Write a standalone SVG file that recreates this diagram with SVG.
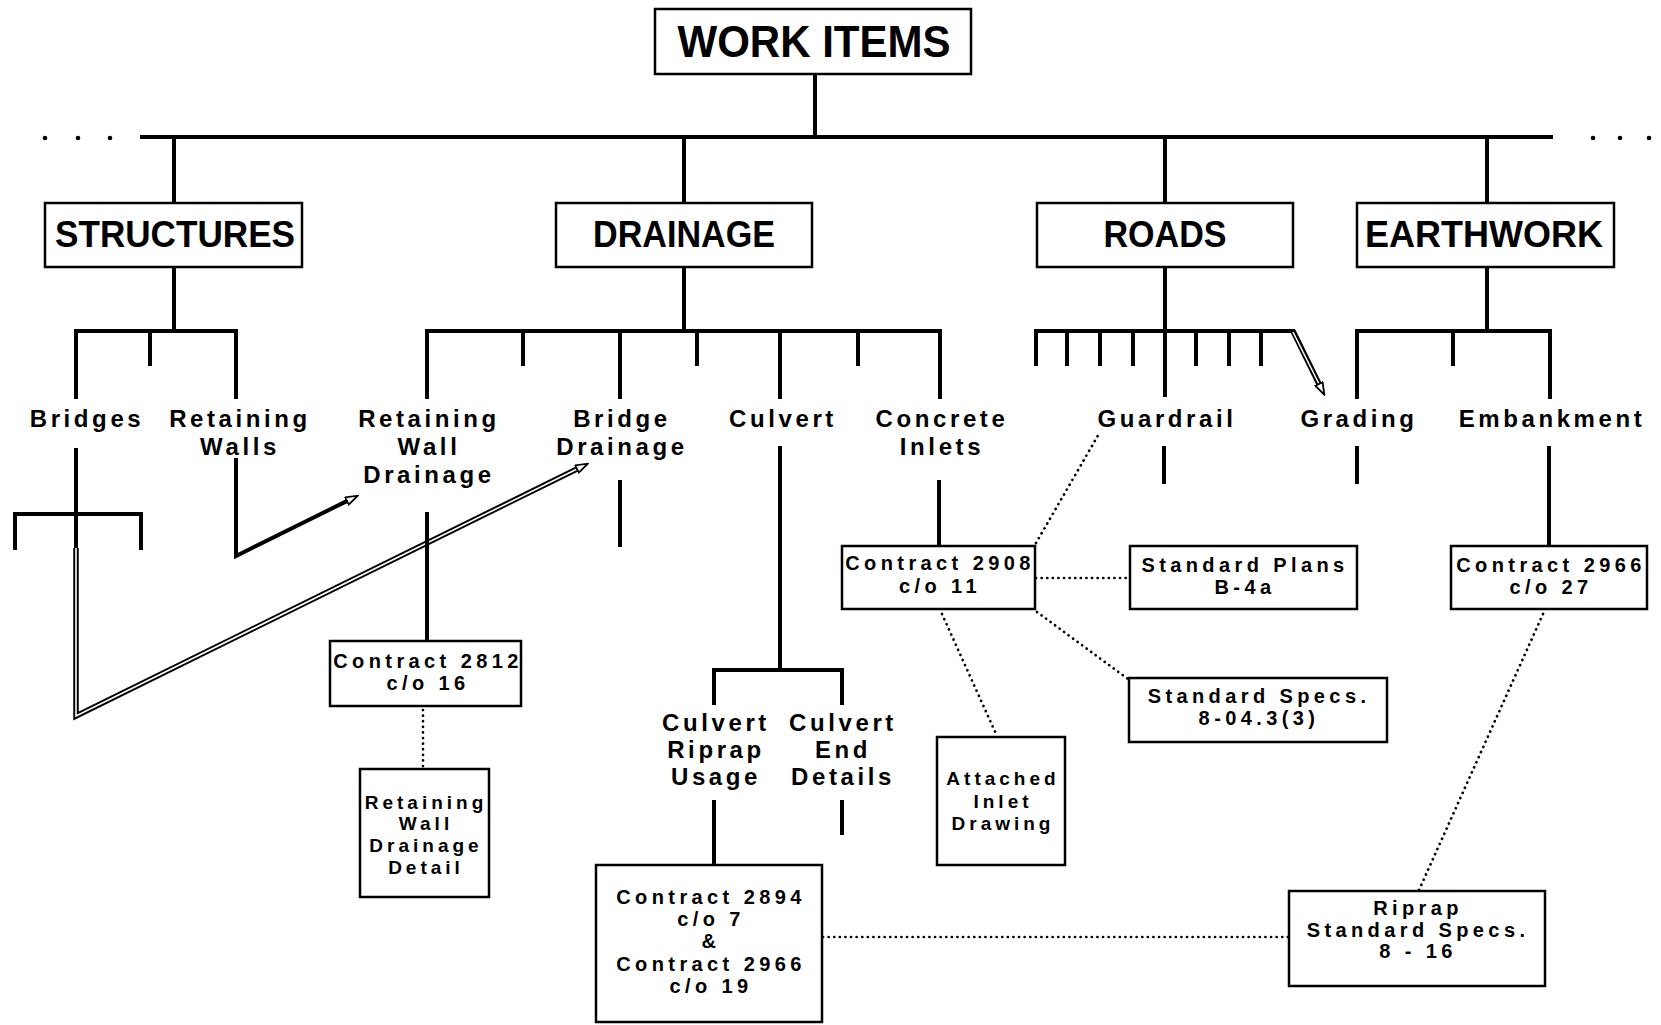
<svg xmlns="http://www.w3.org/2000/svg" width="1661" height="1025" viewBox="0 0 1661 1025">
<defs>
<style>
.ln{stroke:#000;stroke-width:4;fill:none;stroke-linecap:square;stroke-linejoin:miter}
.bx{fill:#fff;stroke:#000;stroke-width:2.5}
.dt{stroke:#000;stroke-width:2.7;fill:none;stroke-dasharray:0.1 5.5;stroke-linecap:round}
.hl{stroke:#000;stroke-width:5.5;fill:none;stroke-linejoin:miter}
.hw{stroke:#fff;stroke-width:1.6;fill:none;stroke-linejoin:miter}
text{font-family:"Liberation Sans",Arial,Helvetica,sans-serif;font-weight:bold;fill:#000;text-anchor:middle}
.h{font-size:37px}
.w{font-size:44px}
.l{font-size:24px;letter-spacing:3.6px}
.b{font-size:20px;letter-spacing:4.4px}
.s{font-size:19px;letter-spacing:4px}
</style>
<marker id="ah" viewBox="0 0 14 10" refX="1" refY="5" markerWidth="14" markerHeight="10" markerUnits="userSpaceOnUse" orient="auto">
<path d="M1,1 L13,5 L1,9 Z" fill="#fff" stroke="#000" stroke-width="1.8"/>
</marker>
</defs>
<rect width="1661" height="1025" fill="#fff"/>

<g id="connectors">
<!-- top level -->
<path class="ln" d="M815,74 V137 M142,137 H1551"/>
<g fill="#000">
<circle cx="45" cy="138" r="2.3"/><circle cx="78" cy="138" r="2.3"/><circle cx="110" cy="138" r="2.3"/>
<circle cx="1593" cy="138" r="2.3"/><circle cx="1620" cy="138" r="2.3"/><circle cx="1649" cy="138" r="2.3"/>
</g>
<path class="ln" d="M174,137 V203 M684,137 V203 M1165,137 V203 M1487,137 V203"/>
<!-- structures subtree -->
<path class="ln" d="M174,267 V331 M76,397 V331 H236 V397 M150,331 V364"/>
<!-- drainage subtree -->
<path class="ln" d="M684,267 V331 M427,397 V331 H940 V397 M523,331 V364 M620,331 V397 M697,331 V364 M780,331 V397 M858,331 V364"/>
<!-- roads subtree -->
<path class="ln" d="M1165,267 V395 M1036,364 V331 H1293 M1067,331 V364 M1100,331 V364 M1133,331 V364 M1196,331 V364 M1229,331 V364 M1261,331 V364"/>
<path class="hl" d="M1293,331 L1319,384"/>
<path class="hw" d="M1293,332 L1319,384" marker-end="url(#ah)"/>
<!-- earthwork subtree -->
<path class="ln" d="M1487,267 V331 M1357,397 V331 H1550 V397 M1453,331 V364"/>
<!-- below labels -->
<path class="ln" d="M76,450 V549 M15,548 V514 H141 V548"/>
<path class="hl" d="M76,548 V716 L577,469"/>
<path class="hw" d="M76,548 V716 L577,469" marker-end="url(#ah)"/>
<path class="ln" d="M236,460 V556 L347,501" marker-end="url(#ah)"/>
<path class="ln" d="M427,514 V641"/>
<path class="ln" d="M620,482 V545"/>
<path class="ln" d="M780,448 V670 M714,703 V670 H842 V703"/>
<path class="ln" d="M939,482 V546"/>
<path class="ln" d="M1164,448 V482 M1357,448 V482 M1549,448 V545"/>
<path class="ln" d="M714,802 V865 M842,802 V833"/>
<!-- dotted links -->
<path class="dt" d="M423,710 V769"/>
<path class="dt" d="M1036,543 L1100,432"/>
<path class="dt" d="M1036,578 H1130"/>
<path class="dt" d="M1037,612 L1128,679"/>
<path class="dt" d="M942,614 L997,736"/>
<path class="dt" d="M1543,614 L1419,890"/>
<path class="dt" d="M823,937 H1289"/>
</g>

<g id="work-items"><rect class="bx" x="655" y="9" width="316" height="65"/><text class="w" x="814" y="57" textLength="273" lengthAdjust="spacingAndGlyphs">WORK ITEMS</text></g>
<g id="structures"><rect class="bx" x="45" y="203" width="257" height="64"/><text class="h" x="175" y="247" textLength="240" lengthAdjust="spacingAndGlyphs">STRUCTURES</text></g>
<g id="drainage"><rect class="bx" x="556" y="203" width="256" height="64"/><text class="h" x="684" y="247" textLength="182" lengthAdjust="spacingAndGlyphs">DRAINAGE</text></g>
<g id="roads"><rect class="bx" x="1037" y="203" width="256" height="64"/><text class="h" x="1165" y="247" textLength="123" lengthAdjust="spacingAndGlyphs">ROADS</text></g>
<g id="earthwork"><rect class="bx" x="1357" y="203" width="257" height="64"/><text class="h" x="1484" y="247" textLength="238" lengthAdjust="spacingAndGlyphs">EARTHWORK</text></g>

<g id="bridges"><text class="l" x="87" y="427">Bridges</text></g>
<g id="retaining-walls"><text class="l" x="240" y="427">Retaining</text><text class="l" x="240" y="455">Walls</text></g>
<g id="retaining-wall-drainage"><text class="l" x="429" y="427">Retaining</text><text class="l" x="429" y="455">Wall</text><text class="l" x="429" y="483">Drainage</text></g>
<g id="bridge-drainage"><text class="l" x="622" y="427">Bridge</text><text class="l" x="622" y="455">Drainage</text></g>
<g id="culvert"><text class="l" x="783" y="427">Culvert</text></g>
<g id="concrete-inlets"><text class="l" x="942" y="427">Concrete</text><text class="l" x="942" y="455">Inlets</text></g>
<g id="guardrail"><text class="l" x="1167" y="427">Guardrail</text></g>
<g id="grading"><text class="l" x="1359" y="427">Grading</text></g>
<g id="embankment"><text class="l" x="1552" y="427">Embankment</text></g>
<g id="culvert-riprap-usage"><text class="l" x="716" y="731">Culvert</text><text class="l" x="716" y="758">Riprap</text><text class="l" x="716" y="785">Usage</text></g>
<g id="culvert-end-details"><text class="l" x="843" y="731">Culvert</text><text class="l" x="843" y="758">End</text><text class="l" x="843" y="785">Details</text></g>

<g id="contract-2812"><rect class="bx" x="330" y="641" width="191" height="65"/><text class="b" x="428" y="668">Contract 2812</text><text class="b" x="428" y="690">c/o 16</text></g>
<g id="rw-drainage-detail"><rect class="bx" x="360" y="769" width="129" height="128"/><text class="s" x="426" y="809">Retaining</text><text class="s" x="426" y="830">Wall</text><text class="s" x="426" y="852">Drainage</text><text class="s" x="426" y="874">Detail</text></g>
<g id="contract-2894"><rect class="bx" x="596" y="865" width="226" height="157"/><text class="b" x="711" y="904">Contract 2894</text><text class="b" x="711" y="926">c/o 7</text><text class="b" x="711" y="948">&amp;</text><text class="b" x="711" y="971">Contract 2966</text><text class="b" x="711" y="993">c/o 19</text></g>
<g id="contract-2908"><rect class="bx" x="842" y="546" width="193" height="63"/><text class="b" x="940" y="570">Contract 2908</text><text class="b" x="940" y="593">c/o 11</text></g>
<g id="attached-inlet"><rect class="bx" x="937" y="737" width="128" height="128"/><text class="s" x="1003" y="785">Attached</text><text class="s" x="1003" y="808">Inlet</text><text class="s" x="1003" y="830">Drawing</text></g>
<g id="standard-plans"><rect class="bx" x="1130" y="546" width="227" height="63"/><text class="b" x="1245" y="572">Standard Plans</text><text class="b" x="1245" y="594">B-4a</text></g>
<g id="standard-specs"><rect class="bx" x="1129" y="678" width="258" height="64"/><text class="b" x="1259" y="703">Standard Specs.</text><text class="b" x="1259" y="725">8-04.3(3)</text></g>
<g id="contract-2966"><rect class="bx" x="1451" y="546" width="196" height="63"/><text class="b" x="1551" y="572">Contract 2966</text><text class="b" x="1551" y="594">c/o 27</text></g>
<g id="riprap-specs"><rect class="bx" x="1289" y="891" width="256" height="95"/><text class="b" x="1418" y="915">Riprap</text><text class="b" x="1418" y="937">Standard Specs.</text><text class="b" x="1418" y="958">8 - 16</text></g>
</svg>
